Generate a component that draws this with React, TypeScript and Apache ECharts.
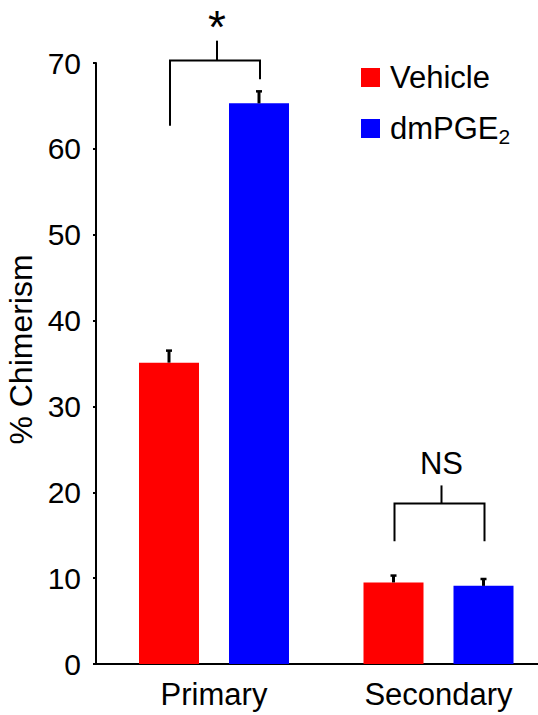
import React, { useEffect, useRef } from "react";
import * as echarts from "echarts";

// ---- data ----
const categories = ["Primary", "Secondary"];
const categoryPos = [1, 2];
const seriesNames = ["Vehicle", "dmPGE2"];
const vehicleValues = [35.1, 9.5];
const vehicleErrors = [1.4, 0.8];
const dmpgeValues = [65.3, 9.1];
const dmpgeErrors = [1.4, 0.8];

// significance brackets (y values in axis units)
const bracketLabels = ["*", "NS"];
const bracketLeftEnd = [62.7, 14.3];
const bracketRightEnd = [68.1, 14.3];
const bracketBar = [70.3, 18.7];
const bracketStem = [72.6, 20.8];
const bracketLabelAt = [74.2, 23.4];

const FONT = "'Liberation Sans', Arial, Helvetica, sans-serif";
const BAR_W = 60;
const BAR_OFFSET = 45; // half distance between the two bars of a group

export default function App() {
  const ref = useRef<HTMLDivElement>(null);

  useEffect(() => {
    if (!ref.current) return;
    const chart = echarts.init(ref.current, null, { renderer: "svg" });

    const errData: number[][] = [];
    categoryPos.forEach((x, i) => {
      errData.push([x, vehicleValues[i], vehicleErrors[i], -1]);
      errData.push([x, dmpgeValues[i], dmpgeErrors[i], 1]);
    });

    const bracketData = categoryPos.map((x, i) => [
      x,
      bracketLeftEnd[i],
      bracketRightEnd[i],
      bracketBar[i],
      bracketStem[i],
      bracketLabelAt[i],
      i,
    ]);

    const option: any = {
      animation: false,
      backgroundColor: "#ffffff",
      textStyle: { fontFamily: FONT },
      grid: {
        left: 96,
        right: 0,
        top: 63,
        bottom: 51,
        containLabel: false,
        outerBoundsMode: "none",
      },
      legend: {
        orient: "vertical",
        left: 361,
        top: 62,
        padding: 0,
        itemWidth: 19,
        itemHeight: 19,
        itemGap: 20,
        icon: "rect",
        data: seriesNames,
        formatter: (name: string) =>
          name === "dmPGE2" ? "{t|dmPGE}{s|2}" : "{t|" + name + "}",
        textStyle: {
          padding: [0, 0, 0, 5],
          rich: {
            t: { fontSize: 31, color: "#000", fontFamily: FONT, lineHeight: 36 },
            s: {
              fontSize: 21,
              color: "#000",
              fontFamily: FONT,
              lineHeight: 17,
              verticalAlign: "bottom",
            },
          },
        },
      },
      xAxis: {
        type: "value",
        min: 0.4744,
        max: 2.4432,
        axisLine: { show: true, lineStyle: { color: "#000", width: 2 } },
        axisTick: { show: false },
        splitLine: { show: false },
        axisLabel: {
          customValues: categoryPos,
          formatter: (v: number) => categories[Math.round(v) - 1] ?? "",
          fontSize: 31,
          color: "#000",
          fontFamily: FONT,
          margin: 15,
        },
      },
      yAxis: {
        type: "value",
        min: 0,
        max: 70,
        interval: 10,
        name: "% Chimerism",
        nameLocation: "middle",
        nameRotate: 90,
        nameGap: 56,
        nameTextStyle: {
          fontSize: 32,
          color: "#000",
          fontFamily: FONT,
          padding: [0, 0, 0, 28],
        },
        axisLine: { show: true, lineStyle: { color: "#000", width: 2 } },
        axisTick: { show: true, length: 3, lineStyle: { color: "#000", width: 2 } },
        splitLine: { show: false },
        axisLabel: { fontSize: 30, color: "#000", fontFamily: FONT, margin: 15 },
      },
      series: [
        {
          name: "Vehicle",
          type: "bar",
          barWidth: BAR_W,
          barGap: "50%",
          itemStyle: { color: "#ff0000" },
          data: categoryPos.map((x, i) => [x, vehicleValues[i]]),
        },
        {
          name: "dmPGE2",
          type: "bar",
          barWidth: BAR_W,
          barGap: "50%",
          itemStyle: { color: "#0000ff" },
          data: categoryPos.map((x, i) => [x, dmpgeValues[i]]),
        },
        {
          type: "custom",
          z: 5,
          clip: false,
          data: errData,
          renderItem: (_p: any, api: any) => {
            const x = api.value(0);
            const v = api.value(1);
            const e = api.value(2);
            const side = api.value(3);
            const base = api.coord([x, v]);
            const top = api.coord([x, v + e]);
            const cx = base[0] + side * BAR_OFFSET;
            return {
              type: "group",
              children: [
                {
                  type: "line",
                  shape: { x1: cx, y1: base[1], x2: cx, y2: top[1] },
                  style: { stroke: "#000", lineWidth: 3 },
                },
                {
                  type: "line",
                  shape: { x1: cx - 3, y1: top[1], x2: cx + 3, y2: top[1] },
                  style: { stroke: "#000", lineWidth: 2.5 },
                },
              ],
            };
          },
        },
        {
          type: "custom",
          z: 5,
          clip: false,
          data: bracketData,
          renderItem: (_p: any, api: any) => {
            const x = api.value(0);
            const c = api.coord([x, 0])[0];
            const lx = c - BAR_OFFSET + 1;
            const rx = c + BAR_OFFSET + 1;
            const y = (v: number) => api.coord([x, v])[1];
            const yl = y(api.value(1));
            const yr = y(api.value(2));
            const yb = y(api.value(3));
            const ys = y(api.value(4));
            const yt = y(api.value(5));
            const idx = api.value(6);
            const label = bracketLabels[idx];
            const mid = (lx + rx) / 2 + 2;
            return {
              type: "group",
              children: [
                {
                  type: "polyline",
                  shape: { points: [[lx, yl], [lx, yb], [rx, yb], [rx, yr]] },
                  style: { stroke: "#000", lineWidth: 2, fill: "none" },
                },
                {
                  type: "line",
                  shape: { x1: mid, y1: yb, x2: mid, y2: ys },
                  style: { stroke: "#000", lineWidth: 2 },
                },
                {
                  type: "text",
                  x: mid,
                  y: yt,
                  style: {
                    text: label,
                    fontSize: label === "*" ? 46 : 31,
                    fontFamily: FONT,
                    fill: "#000",
                    align: "center",
                    verticalAlign: "middle",
                  },
                },
              ],
            };
          },
        },
      ],
    };

    chart.setOption(option);
    return () => chart.dispose();
  }, []);

  return (
    <div
      ref={ref}
      style={{ position: "fixed", left: 0, top: 0, width: 538, height: 715, background: "#fff" }}
    />
  );
}
